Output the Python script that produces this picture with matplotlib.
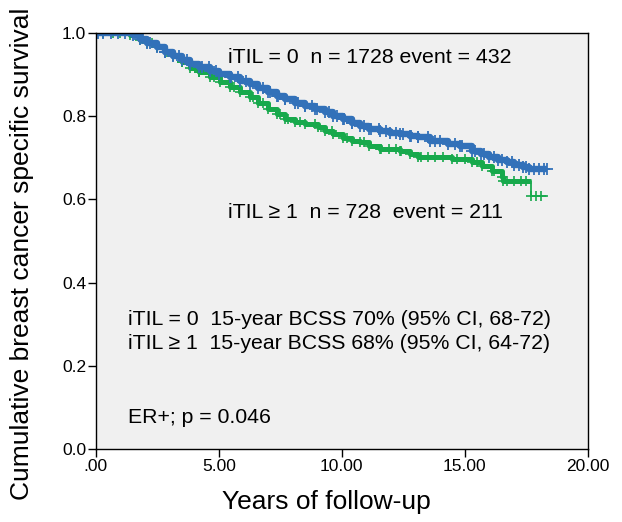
import numpy as np
import matplotlib
matplotlib.use("Agg")
import matplotlib.pyplot as plt

plt.rcParams['font.family'] = ['Liberation Sans', 'DejaVu Sans']

# Kaplan-Meier step points (time in years, survival)
# iTIL = 0 (blue)
t0 = [0.0, 1.5, 1.79, 2.1, 2.48, 2.8, 3.13, 3.5, 3.82, 4.2, 4.63, 5.0, 5.45, 5.85, 6.26, 6.6, 6.99, 7.35,
      7.68, 8.1, 8.5, 8.9, 9.31, 9.65, 10.04, 10.4, 10.73, 11.1, 11.54, 11.95, 12.36, 12.76, 13.1, 13.6,
      14.3, 14.8, 15.3, 15.65, 16.0, 16.35, 16.7, 17.0, 17.36, 17.6, 18.33]
s0 = [1.0, 0.995, 0.986, 0.976, 0.966, 0.955, 0.945, 0.935, 0.925, 0.917, 0.908, 0.901, 0.894, 0.885, 0.877,
      0.867, 0.858, 0.849, 0.841, 0.832, 0.824, 0.817, 0.810, 0.801, 0.793, 0.784, 0.776, 0.770, 0.764, 0.760,
      0.757, 0.752, 0.749, 0.740, 0.733, 0.728, 0.716, 0.708, 0.701, 0.695, 0.689, 0.683, 0.677, 0.673, 0.673]
# iTIL >= 1 (green)
t1 = [0.0, 1.4, 1.79, 2.1, 2.48, 2.8, 3.13, 3.5, 3.82, 4.2, 4.63, 5.05, 5.45, 5.85, 6.26, 6.6, 6.99, 7.35,
      7.68, 8.1, 8.5, 9.02, 9.31, 9.65, 10.04, 10.4, 10.73, 11.1, 11.54, 12.36, 12.76, 13.1, 14.5, 15.3,
      15.7, 16.1, 16.5, 16.55, 17.7, 18.33]
s1 = [1.0, 0.995, 0.984, 0.975, 0.966, 0.955, 0.945, 0.930, 0.915, 0.905, 0.894, 0.882, 0.870, 0.858, 0.846,
      0.832, 0.817, 0.805, 0.793, 0.787, 0.781, 0.773, 0.764, 0.756, 0.747, 0.741, 0.737, 0.728, 0.720, 0.716,
      0.708, 0.701, 0.696, 0.689, 0.680, 0.667, 0.653, 0.643, 0.607, 0.607]

# censoring times (years)
c0 = [0.1, 0.3, 0.6, 0.9, 1.2, 1.7, 2.2, 2.8, 3.4, 3.7, 4.3, 4.6, 4.9, 5.5, 5.8, 6.1, 6.8, 7.1, 7.4, 7.7,
      8.2, 8.5, 8.8, 9.0, 9.5, 9.8, 10.1, 10.4, 10.9, 11.2, 11.5, 11.8, 12.2, 12.5, 12.8, 13.1, 13.5, 13.8,
      14.0, 14.6, 14.9, 15.4, 15.8, 16.2, 16.5, 16.9, 17.2, 17.5, 17.8, 18.0, 18.2]
c1 = [0.3, 0.7, 1.0, 1.7, 2.3, 2.9, 3.5, 4.2, 4.8, 5.6, 6.4, 6.8, 7.5, 7.8, 8.3, 8.9, 9.6, 10.2, 10.9, 11.6,
      11.9, 12.2, 12.4, 13.2, 13.5, 13.8, 14.1, 14.7, 15.0, 15.5, 16.2, 16.7, 17.0, 17.3, 17.5, 17.9, 18.1]

xticks = [0, 5, 10, 15, 20]
xticklabels = ['.00', '5.00', '10.00', '15.00', '20.00']
yticks = [0.0, 0.2, 0.4, 0.6, 0.8, 1.0]
yticklabels = ['0.0', '0.2', '0.4', '0.6', '0.8', '1.0']

blue = '#3271b9'
green = '#17a94c'

fig = plt.figure(figsize=(6.22, 5.22), dpi=100)
ax = fig.add_axes([0.154, 0.140, 0.791, 0.797])
ax.set_facecolor('#f0f0f0')


def surv_at(times, tt, ss):
    idx = np.searchsorted(tt, times, side='right') - 1
    return np.asarray(ss)[idx]


# green curve: thick band up to the last drop, thin tail
ax.step(t1, s1, where='post', color=green, lw=1.3)
ax.step(t1[:-1], s1[:-2] + [s1[-3]], where='post', color=green, lw=3.6, solid_capstyle='butt')
ax.plot(c1, surv_at(c1, t1, s1), '+', color=green, ms=7, mew=1.2, ls='none')
ax.plot(t1[1:-1], s1[1:-1], '+', color=green, ms=7, mew=1.2, ls='none')

# blue curve
ax.step(t0, s0, where='post', color=blue, lw=4.6, solid_capstyle='butt')
ax.plot(c0, surv_at(c0, t0, s0), '+', color=blue, ms=8, mew=1.3, ls='none')
ax.plot(t0[1:], s0[1:], '+', color=blue, ms=8, mew=1.3, ls='none')

ax.set_xlim(0, 20)
ax.set_ylim(0, 1.0)
ax.set_xticks(xticks)
ax.set_xticklabels(xticklabels)
ax.set_yticks(yticks)
ax.set_yticklabels(yticklabels)
ax.tick_params(axis='both', direction='out', length=6, width=1, labelsize=12.5, pad=1, color='black')
for sp in ax.spines.values():
    sp.set_linewidth(1.0)
    sp.set_color('black')

ax.set_xlabel('Years of follow-up', fontsize=19)
ax.xaxis.set_label_coords(0.468, -0.099)
ax.set_ylabel('Cumulative breast cancer specific survival', fontsize=19)
ax.yaxis.set_label_coords(-0.126, 0.469)

fs = 15.3
ax.text(5.37, 0.94, 'iTIL = 0  n = 1728 event = 432', fontsize=fs, va='center', ha='left')
ax.text(5.37, 0.569, 'iTIL \u2265 1  n = 728  event = 211', fontsize=fs, va='center', ha='left')
ax.text(1.3, 0.311, 'iTIL = 0  15-year BCSS 70% (95% CI, 68-72)', fontsize=fs, va='center', ha='left')
ax.text(1.3, 0.253, 'iTIL \u2265 1  15-year BCSS 68% (95% CI, 64-72)', fontsize=fs, va='center', ha='left')
ax.text(1.3, 0.075, 'ER+; p = 0.046', fontsize=fs, va='center', ha='left')

fig.savefig('out.png', dpi=100)
